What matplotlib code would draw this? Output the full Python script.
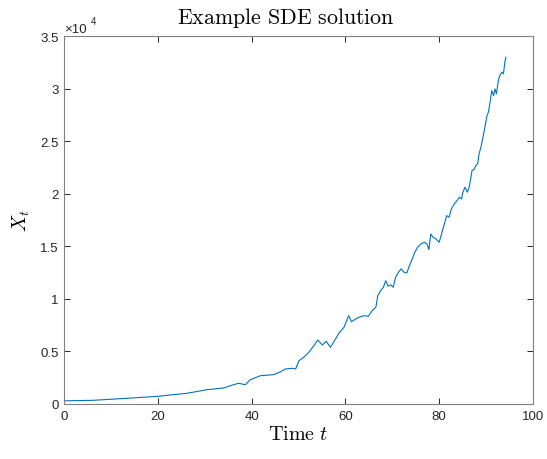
import matplotlib
matplotlib.use("Agg")
import matplotlib.pyplot as plt
import numpy as np

# Path (time, X_t)
t_vals = [0.0, 6.3, 13.4, 20.1, 22.6, 26.2, 30.5, 34.0, 35.5, 37.2, 38.7, 39.7,
          41.9, 44.7, 46.2, 47.2, 48.7, 49.4, 50.1, 51.1, 52.2, 53.3, 54.1, 55.1,
          55.9, 56.8, 57.9, 58.6, 59.7, 60.7, 61.3, 62.2, 62.9, 64.0, 64.9, 65.7,
          66.5, 66.9, 67.5, 68.1, 68.6, 69.1, 69.7, 70.2, 70.7, 71.4, 71.9, 72.5,
          73.1, 73.6, 74.1, 74.8, 75.4, 76.1, 76.8, 77.4, 77.8, 78.2, 78.7, 79.3,
          80.0, 80.5, 81.0, 81.6, 82.1, 82.6, 83.2, 83.8, 84.3, 84.8, 85.0, 85.5,
          86.0, 86.4, 87.0, 87.5, 87.8, 88.2, 88.5, 88.9, 89.4, 89.8, 90.2, 90.5,
          90.9, 91.2, 91.6, 91.9, 92.2, 92.6, 92.9, 93.4, 93.7, 94.0, 94.2]
x_vals = [300, 352, 542, 733, 856, 1018, 1361, 1522, 1741, 1970, 1836, 2312,
          2693, 2788, 3073, 3330, 3397, 3330, 4120, 4443, 4919, 5547, 6089, 5614,
          5966, 5395, 6185, 6727, 7298, 8402, 7831, 8088, 8249, 8402, 8344, 8877,
          9201, 10304, 10780, 11104, 11732, 11199, 11323, 11104, 12055, 12588, 12845, 12531,
          12464, 13102, 13635, 14434, 14909, 15224, 15385, 15224, 14681, 16175, 15861, 15699,
          15385, 16175, 16965, 17916, 17764, 18554, 19030, 19343, 19667, 19505, 20076, 20619,
          20143, 20619, 22198, 22360, 22674, 22835, 23787, 24424, 25528, 26479, 27431, 27754,
          28858, 29810, 29334, 29971, 29496, 30761, 31237, 31560, 31399, 32512, 32988]

x_ticks = [0, 20, 40, 60, 80, 100]
y_ticks = [0, 5000, 10000, 15000, 20000, 25000, 30000, 35000]
y_tick_labels = ["0", "0.5", "1", "1.5", "2", "2.5", "3", "3.5"]

plt.rcParams['mathtext.fontset'] = 'cm'
plt.rcParams['font.family'] = ['Liberation Sans', 'DejaVu Sans']

fig = plt.figure(figsize=(5.47, 4.6), dpi=100)
ax = fig.add_axes([64/547, 55/460, (533-64)/547, (405-37)/460])

ax.plot(t_vals, x_vals, color='#0072BD', lw=0.8)
ax.set_xlim(0, 100)
ax.set_ylim(0, 35000)
ax.set_xticks(x_ticks)
ax.set_yticks(y_ticks)
ax.set_yticklabels(y_tick_labels)

gray = '#262626'
for s in ax.spines.values():
    s.set_color('#808080')
    s.set_linewidth(0.8)
ax.tick_params(direction='in', length=4, width=0.7, colors=gray, labelsize=9.5,
               top=True, right=True, pad=4)

ax.set_title(r'$\mathrm{Example\ SDE\ solution}$', fontsize=15.8, color='black',
             pad=9, x=0.472)
ax.set_xlabel(r'$\mathrm{Time}\ t$', fontsize=14.5, labelpad=2)
ax.set_ylabel(r'$X_t$', fontsize=14, labelpad=6)

ax.text(0.0, 1.002, '×10', transform=ax.transAxes, fontsize=9.5, color=gray,
        ha='left', va='bottom')
ax.text(0.058, 1.027, '4', transform=ax.transAxes, fontsize=7, color=gray,
        ha='left', va='bottom')

fig.savefig('out.png', dpi=100)
